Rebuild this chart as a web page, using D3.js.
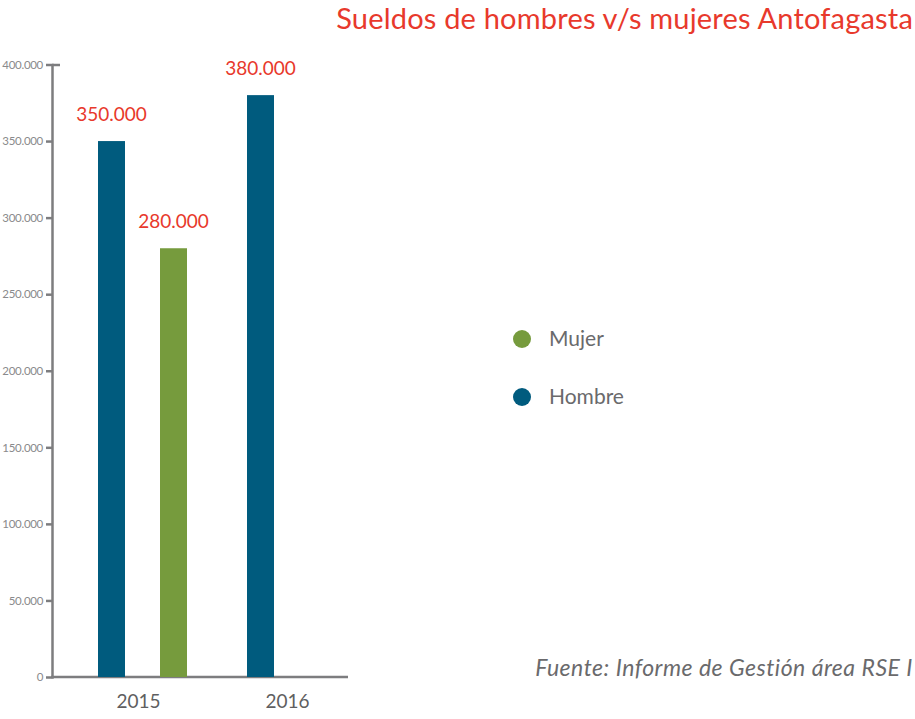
<!DOCTYPE html>
<html>
<head>
<meta charset="utf-8">
<script src="https://cdn.jsdelivr.net/npm/d3@7"></script>
<style>
  body { margin: 0; background: #fff; }
  text { font-family: Lato, "Open Sans", sans-serif; }
</style>
</head>
<body>
<div id="chart-area"></div>
<script>
// data
const years = ["2015", "2016"];
const series = ["Hombre", "Mujer"];
const hombre = [350000, 380000];
const mujer = [280000, null];
const yTicks = [0, 50000, 100000, 150000, 200000, 250000, 300000, 350000, 400000];
const legendItems = ["Mujer", "Hombre"];

const WIDTH = 915;
const HEIGHT = 719;
const colors = { Hombre: "#005b7e", Mujer: "#769b3d" };
const red = "#e8392c";
const fmt = d => d3.format(",")(d).replace(/,/g, ".");

const rows = years.map((yr, i) => ({ year: yr, Hombre: hombre[i], Mujer: mujer[i] }));

const svg = d3.select("#chart-area").append("svg")
  .attr("width", WIDTH)
  .attr("height", HEIGHT);

const y = d3.scaleLinear()
  .domain([0, 400000])
  .range([677, 64.5]);

const x0 = d3.scaleBand()
  .domain(years)
  .range([98, 336])
  .paddingInner(60 / 149);

const x1 = d3.scaleBand()
  .domain(series)
  .range([0, x0.bandwidth()])
  .paddingInner(35 / 62);

// y axis
const leftAxis = d3.axisLeft(y)
  .tickValues(yTicks)
  .tickFormat(d => d === 0 ? "0" : fmt(d))
  .tickSizeOuter(0)
  .tickSize(6)
  .tickPadding(3);

const gy = svg.append("g")
  .attr("transform", "translate(52,0)")
  .call(leftAxis);
gy.select(".domain").attr("stroke", "#7d7d7f").attr("stroke-width", 2.5);
gy.selectAll(".tick line").attr("stroke", "#7d7d7f").attr("stroke-width", 2.5);
gy.selectAll(".tick text")
  .attr("fill", "#8a8a8c")
  .style("font-size", "11.5px")
  .style("letter-spacing", "-0.3px");
gy.selectAll(".tick").filter(d => d === 400000).select("line").attr("x2", 8);
gy.selectAll(".tick").filter(d => d === 0).select("line").remove();

// x axis line
svg.append("line")
  .attr("x1", 51)
  .attr("x2", 348)
  .attr("y1", y(0))
  .attr("y2", y(0))
  .attr("stroke", "#7d7d7f")
  .attr("stroke-width", 2.5);

// bars
const groups = svg.selectAll("g.year").data(rows).enter().append("g")
  .attr("class", "year")
  .attr("transform", d => `translate(${x0(d.year)},0)`);

const bars = groups.selectAll("rect")
  .data(d => series.map(s => ({ key: s, value: d[s] })).filter(b => b.value != null))
  .enter();

bars.append("rect")
  .attr("x", d => x1(d.key))
  .attr("y", d => y(d.value))
  .attr("width", x1.bandwidth())
  .attr("height", d => y(0) - y(d.value))
  .attr("fill", d => colors[d.key]);

bars.append("text")
  .attr("x", d => x1(d.key) + x1.bandwidth() / 2)
  .attr("y", d => y(d.value) - 20)
  .attr("text-anchor", "middle")
  .attr("fill", red)
  .style("font-size", "19px")
  .text(d => fmt(d.value));

// year labels
const bottomAxis = d3.axisBottom(x0).tickSize(0).tickPadding(0);
const gx = svg.append("g")
  .attr("transform", `translate(-4,${y(0) + 17})`)
  .call(bottomAxis);
gx.select(".domain").remove();
gx.selectAll(".tick text")
  .attr("fill", "#5f5f61")
  .style("font-size", "19px");

// title
svg.append("text")
  .attr("x", 913)
  .attr("y", 29)
  .attr("text-anchor", "end")
  .attr("fill", red)
  .style("font-size", "29px")
  .style("letter-spacing", "0.2px")
  .text("Sueldos de hombres v/s mujeres Antofagasta");

// legend
const legend = svg.selectAll("g.legend").data(legendItems).enter().append("g")
  .attr("class", "legend")
  .attr("transform", (d, i) => `translate(522,${339 + i * 58})`);
legend.append("circle")
  .attr("r", 9)
  .attr("fill", d => colors[d]);
legend.append("text")
  .attr("x", 27)
  .attr("y", 7)
  .attr("fill", "#6a6a6c")
  .style("font-size", "21px")
  .text(d => d);

// source
svg.append("text")
  .attr("x", 913)
  .attr("y", 676)
  .attr("text-anchor", "end")
  .attr("fill", "#6a6a6c")
  .style("font-size", "23px")
  .style("font-style", "italic")
  .style("letter-spacing", "0.5px")
  .text("Fuente: Informe de Gestión área RSE I");
</script>
</body>
</html>
